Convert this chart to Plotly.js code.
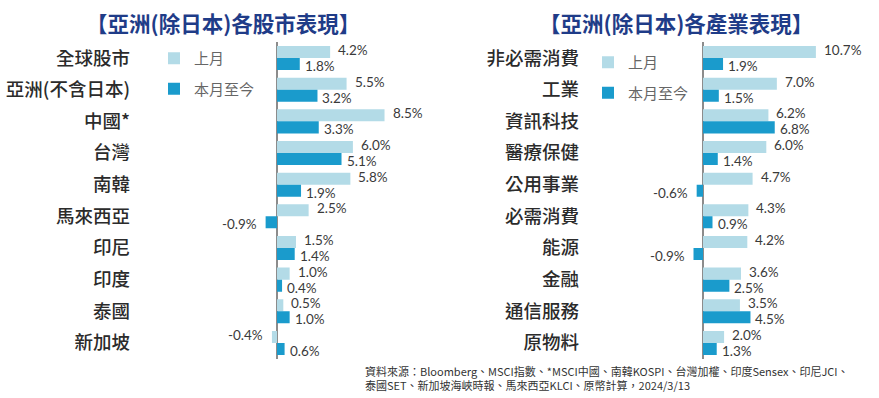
<!DOCTYPE html>
<html>
<head>
<meta charset="utf-8">
<script src="https://cdn.plot.ly/plotly-3.0.1.min.js"></script>
<style>html,body{margin:0;padding:0;background:#fff;}#chart{width:879px;height:398px;}</style>
</head>
<body>
<div id="chart"></div>
<script>
// ---- data ----
const marketCats = ["全球股市", "亞洲(不含日本)", "中國*", "台灣", "南韓", "馬來西亞", "印尼", "印度", "泰國", "新加坡"];
const marketLastMonth = [4.2, 5.5, 8.5, 6.0, 5.8, 2.5, 1.5, 1.0, 0.5, -0.4];
const marketMTD = [1.8, 3.2, 3.3, 5.1, 1.9, -0.9, 1.4, 0.4, 1.0, 0.6];

const sectorCats = ["非必需消費", "工業", "資訊科技", "醫療保健", "公用事業", "必需消費", "能源", "金融", "通信服務", "原物料"];
const sectorLastMonth = [10.7, 7.0, 6.2, 6.0, 4.7, 4.3, 4.2, 3.6, 3.5, 2.0];
const sectorMTD = [1.9, 1.5, 6.8, 1.4, -0.6, 0.9, -0.9, 2.5, 4.5, 1.3];

const seriesNames = ["上月", "本月至今"];
const leftTitle = "【亞洲(除日本)各股市表現】";
const rightTitle = "【亞洲(除日本)各產業表現】";
const sourceNote = "資料來源：Bloomberg、MSCI指數、*MSCI中國、南韓KOSPI、台灣加權、印度Sensex、印尼JCI、<br>泰國SET、新加坡海峽時報、馬來西亞KLCI、原幣計算，2024/3/13";

// ---- style ----
const LIGHT = "#b3dbe7";
const DARK = "#1a9bcc";
const W = 879, H = 398;
const numFont = {family: "Lato, 'Noto Sans', sans-serif", size: 13.5, color: "#3a3a3a"};
const cjk = "'Noto Sans CJK TC', 'Noto Sans CJK SC', sans-serif";
const BARGAP = 0.24;
const half = (1 - BARGAP) / 4; // centre offset of each of the 2 bars in a group

function barTrace(x, y, name, color, xa, ya, leg) {
  return {
    type: "bar", orientation: "h", x: x, y: y, name: name,
    marker: {color: color},
    xaxis: xa, yaxis: ya,
    legend: leg, legendgroup: leg + name, showlegend: true,
    cliponaxis: false, hoverinfo: "skip"
  };
}

const data = [
  barTrace(marketLastMonth, marketCats, seriesNames[0], LIGHT, "x", "y", "legend"),
  barTrace(marketMTD, marketCats, seriesNames[1], DARK, "x", "y", "legend"),
  barTrace(sectorLastMonth, sectorCats, seriesNames[0], LIGHT, "x2", "y2", "legend2"),
  barTrace(sectorMTD, sectorCats, seriesNames[1], DARK, "x2", "y2", "legend2")
];

// value labels (placed at each bar end through the axes)
function valueLabels(values, xa, ya, slot) {
  const off = slot === 0 ? -half : half;
  return values.map((v, i) => ({
    text: v.toFixed(1) + "%",
    xref: xa, yref: ya, x: v, y: i + off,
    xanchor: v >= 0 ? "left" : "right", yanchor: "middle",
    xshift: v >= 0 ? (slot === 0 ? 7 : 4) : -8,
    yshift: slot === 0 ? 2 : -2,
    borderpad: 0,
    showarrow: false, font: numFont
  }));
}

const yDom = [1 - 358.8 / H, 1 - 42.2 / H];
const leftZero = 277, leftScale = 12.65, leftL = 131, leftR = 440;
const rightZero = 703, rightScale = 10.55, rightL = 580, rightR = 879;

function xAxis(l, r, zero, scale, anchor) {
  return {
    domain: [l / W, r / W],
    range: [(l - zero) / scale, (r - zero) / scale],
    showgrid: false, showticklabels: false, ticks: "",
    zeroline: true, zerolinecolor: "#8c8c8c", zerolinewidth: 1.5,
    anchor: anchor, fixedrange: true
  };
}
function yAxis(anchor) {
  return {
    domain: yDom, autorange: "reversed", type: "category",
    showgrid: false, showline: false, ticks: "", zeroline: false,
    tickfont: {family: cjk, size: 18.5, color: "#2b2b2b", weight: 500},
    anchor: anchor, fixedrange: true
  };
}

const legendBase = {
  orientation: "v", traceorder: "grouped", tracegroupgap: 8,
  font: {family: cjk, size: 15, color: "#666"},
  bgcolor: "rgba(0,0,0,0)", xanchor: "left", yanchor: "top",
  itemclick: false, itemdoubleclick: false
};

const layout = {
  width: W, height: H,
  margin: {l: 0, r: 0, t: 0, b: 0},
  paper_bgcolor: "#fff", plot_bgcolor: "#fff",
  barmode: "group", bargap: BARGAP, bargroupgap: 0,
  xaxis: xAxis(leftL, leftR, leftZero, leftScale, "y"),
  yaxis: yAxis("x"),
  xaxis2: xAxis(rightL, rightR, rightZero, rightScale, "y2"),
  yaxis2: yAxis("x2"),
  legend: Object.assign({}, legendBase, {x: 154 / W, y: 1 - 42 / H}),
  legend2: Object.assign({}, legendBase, {x: 588 / W, y: 1 - 46 / H}),
  annotations: [
    {text: leftTitle, xref: "paper", yref: "paper", x: 223 / W, y: 1 - 22 / H,
     xanchor: "center", yanchor: "middle", showarrow: false,
     font: {family: cjk, size: 21.5, color: "#1f3c88", weight: "bold"}},
    {text: rightTitle, xref: "paper", yref: "paper", x: 676 / W, y: 1 - 22 / H,
     xanchor: "center", yanchor: "middle", showarrow: false,
     font: {family: cjk, size: 21.5, color: "#1f3c88", weight: "bold"}},
    {text: sourceNote, xref: "paper", yref: "paper", x: 363 / W, y: 1 - 378 / H,
     xanchor: "left", yanchor: "middle", align: "left", showarrow: false,
     font: {family: cjk, size: 11, color: "#333"}}
  ].concat(
    valueLabels(marketLastMonth, "x", "y", 0),
    valueLabels(marketMTD, "x", "y", 1),
    valueLabels(sectorLastMonth, "x2", "y2", 0),
    valueLabels(sectorMTD, "x2", "y2", 1)
  )
};

Plotly.newPlot("chart", data, layout, {displayModeBar: false, staticPlot: true});
</script>
</body>
</html>
